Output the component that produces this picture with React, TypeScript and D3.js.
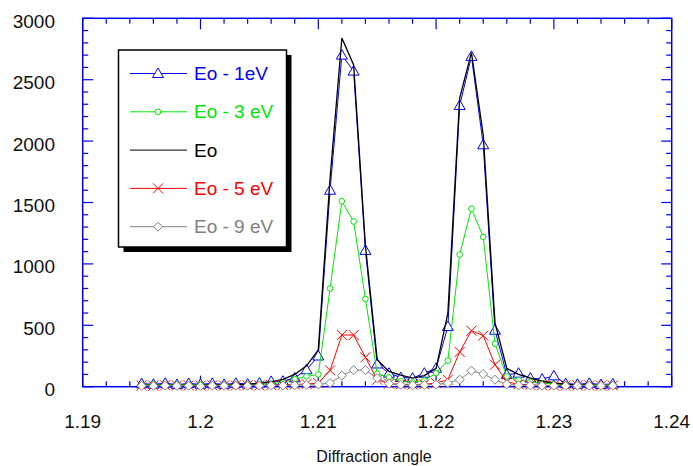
import React from "react";
import * as d3 from "d3";

// diffraction angle of each sample
const angles = [
  1.195, 1.196, 1.197, 1.198, 1.199, 1.2, 1.201, 1.202, 1.203, 1.204, 1.205,
  1.206, 1.207, 1.208, 1.209, 1.21, 1.211, 1.212, 1.213, 1.214, 1.215,
  1.216, 1.217, 1.218, 1.219, 1.22, 1.221, 1.222, 1.223, 1.224, 1.225,
  1.226, 1.227, 1.228, 1.229, 1.23, 1.231, 1.232, 1.233, 1.234, 1.235,
];

const eoMinus1 = [
  25, 20, 28, 18, 26, 20, 27, 19, 28, 22, 30,
  43, 45, 72, 138, 250, 1600, 2700, 2570, 1110, 185,
  110, 75, 70, 110, 150, 490, 2290, 2690, 1970, 460,
  98, 110, 70, 62, 88, 25, 20, 28, 18, 22,
];
const eoMinus3 = [
  15, 18, 14, 17, 15, 18, 14, 17, 16, 18, 20,
  25, 35, 63, 84, 100, 800, 1510, 1345, 715, 106,
  76, 45, 35, 50, 111, 212, 1076, 1450, 1220, 350,
  84, 55, 40, 30, 22, 18, 15, 17, 14, 16,
];
const eo = [
  10, 12, 11, 13, 10, 12, 14, 13, 15, 20, 28,
  40, 60, 100, 170, 300, 1700, 2840, 2620, 1150, 220,
  125, 95, 70, 90, 150, 600, 2350, 2720, 2050, 520,
  150, 100, 70, 45, 30, 20, 15, 12, 10, 10,
];
const eoMinus5 = [
  10, 8, 11, 9, 10, 8, 11, 9, 10, 12, 10,
  12, 15, 18, 22, 30, 133, 421, 421, 239, 57,
  25, 20, 18, 20, 30, 57, 283, 456, 416, 179,
  40, 20, 15, 12, 10, 9, 11, 10, 9, 10,
];
const eoMinus9 = [
  8, 6, 9, 7, 8, 6, 9, 7, 8, 7, 9,
  10, 10, 12, 15, 18, 30, 90, 135, 135, 70,
  25, 15, 12, 14, 18, 30, 57, 130, 103, 57,
  20, 12, 10, 9, 8, 7, 9, 8, 7, 8,
];

const seriesNames = ["Eo - 1eV", "Eo - 3 eV", "Eo", "Eo - 5 eV", "Eo - 9 eV"];
const xTickValues = [1.19, 1.2, 1.21, 1.22, 1.23, 1.24];
const yTickValues = [0, 500, 1000, 1500, 2000, 2500, 3000];

const FONT = "'Liberation Sans', Arial, sans-serif";
const AXIS = "#0000f0";

const series = [
  { name: seriesNames[0], values: eoMinus1, color: "#0000ff", marker: "triangle", width: 1 },
  { name: seriesNames[1], values: eoMinus3, color: "#00e800", marker: "circle", width: 1 },
  { name: seriesNames[2], values: eo, color: "#000000", marker: "none", width: 1.3 },
  { name: seriesNames[3], values: eoMinus5, color: "#ff0000", marker: "cross", width: 1 },
  { name: seriesNames[4], values: eoMinus9, color: "#808080", marker: "diamond", width: 1 },
];

const Marker = ({ type, x, y, color }) => {
  if (type === "triangle")
    return <path d={`M${x},${y - 5.5}L${x + 5.5},${y + 4}L${x - 5.5},${y + 4}Z`} fill="white" stroke={color} strokeWidth={1} />;
  if (type === "circle")
    return <circle cx={x} cy={y} r={2.8} fill="white" stroke={color} strokeWidth={1} />;
  if (type === "cross")
    return <path d={`M${x - 5},${y - 5}L${x + 5},${y + 5}M${x - 5},${y + 5}L${x + 5},${y - 5}`} stroke={color} strokeWidth={1} />;
  if (type === "diamond")
    return <path d={`M${x},${y - 4.5}L${x + 4.5},${y}L${x},${y + 4.5}L${x - 4.5},${y}Z`} fill="white" stroke={color} strokeWidth={1} />;
  return null;
};

export default function App() {
  const left = 82.7, right = 671.7, top = 18.3, bottom = 386.7;
  const x = d3.scaleLinear().domain([1.19, 1.24]).range([left, right]);
  const y = d3.scaleLinear().domain([0, 3000]).range([bottom, top]);

  const minorX = d3.range(0, 26).map((i) => 1.19 + i * 0.002);
  const minorY = d3.range(0, 31).map((i) => i * 100);
  const line = d3
    .line<number>()
    .x((d, i) => x(angles[i]))
    .y((d) => y(d));

  const legendX = 118.5, legendY = 50, legendW = 168, legendH = 197;

  return (
    <svg width={693} height={466} style={{ position: "absolute", left: 0, top: 0, background: "white" }} fontFamily={FONT}>
      {/* ticks */}
      <g stroke={AXIS} strokeWidth={1.2}>
        {minorX.map((v, i) => {
          const major = i % 5 === 0;
          const len = major ? 11 : 5.5;
          return (
            <g key={"x" + i}>
              <line x1={x(v)} x2={x(v)} y1={bottom} y2={bottom - len} />
              <line x1={x(v)} x2={x(v)} y1={top} y2={top + len} />
            </g>
          );
        })}
        {minorY.map((v, i) => {
          const major = i % 5 === 0;
          const len = major ? 10.5 : 5.5;
          return (
            <g key={"y" + i}>
              <line x1={left} x2={left + len} y1={y(v)} y2={y(v)} />
              <line x1={right} x2={right - len} y1={y(v)} y2={y(v)} />
            </g>
          );
        })}
        <rect x={left} y={top} width={right - left} height={bottom - top} fill="none" strokeWidth={1.5} />
      </g>

      {/* tick labels */}
      {yTickValues.map((v) => (
        <text key={v} x={55} y={y(v) + 3} textAnchor="end" dominantBaseline="central" fontSize={19} fill="#111">
          {v}
        </text>
      ))}
      {xTickValues.map((v) => (
        <text key={v} x={x(v)} y={428} textAnchor="middle" fontSize={19} fill="#111">
          {d3.format("")(+v.toFixed(2))}
        </text>
      ))}
      <text x={374} y={462} textAnchor="middle" fontSize={16} fill="#111">
        Diffraction angle
      </text>

      {/* series */}
      {series.map((s) => (
        <g key={s.name}>
          <path d={line(s.values) || ""} fill="none" stroke={s.color} strokeWidth={s.width} />
          {s.values.map((v, i) => (
            <Marker key={i} type={s.marker} x={x(angles[i])} y={y(v)} color={s.color} />
          ))}
        </g>
      ))}

      {/* legend */}
      <rect x={legendX + 5} y={legendY + 5} width={legendW} height={legendH} fill="black" />
      <rect x={legendX} y={legendY} width={legendW} height={legendH} fill="white" stroke="black" strokeWidth={1.5} />
      {series.map((s, i) => {
        const ly = 73.5 + i * 38.3;
        return (
          <g key={"lg" + s.name}>
            <line x1={130} x2={187} y1={ly} y2={ly} stroke={s.color} strokeWidth={1} />
            <Marker type={s.marker} x={158} y={ly} color={s.color} />
            <text x={194} y={ly} dominantBaseline="central" fontSize={19} fill={s.color}>
              {s.name}
            </text>
          </g>
        );
      })}
    </svg>
  );
}
